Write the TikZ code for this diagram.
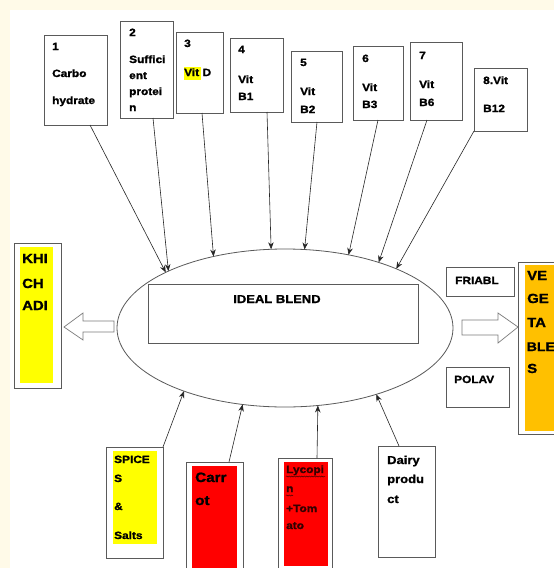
\documentclass[tikz,border=0pt]{standalone}
\usepackage{fontspec}
\setmainfont{Liberation Sans}[FakeStretch=1.13, BoldFeatures={FakeBold=1.3}]
\usetikzlibrary{arrows.meta,fit,decorations.pathmorphing,shapes.geometric}
\definecolor{cream}{RGB}{255,250,232}
\definecolor{boxgray}{RGB}{90,90,90}
\definecolor{orng}{RGB}{255,192,0}
\definecolor{hiyel}{RGB}{255,255,0}
\tikzset{
  box/.style={draw=boxgray, line width=0.8pt, inner sep=0pt, outer sep=0pt},
  fillbox/.style={fill=#1, draw=none, inner sep=0pt, outer sep=0pt},
  txt/.style={anchor=base west, inner sep=0pt, font=\bfseries\fontsize{10.5}{12}\selectfont},
  bigtxt/.style={anchor=base west, inner sep=0pt, font=\bfseries\fontsize{13.2}{15}\selectfont},
  con/.style={draw=black!85, line width=0.6pt, -{Stealth[length=7pt,width=5.5pt]}},
  blockarrow/.style={draw=boxgray!80, line width=0.7pt, fill=white}
}
\begin{document}
\begin{tikzpicture}[x=1pt,y=-1pt]
\useasboundingbox (0,0) rectangle (554,568);
\clip (0,0) rectangle (554,568);
\fill[cream] (0,0) rectangle (554,568);
\fill[white] (10,10) rectangle (554,568);

% top boxes
\node[box, fit={(44,35) (107,125)}] (b1) {};
\node[txt] (t1a) at (52,50) {1};
\node[txt] (t1b) at (52,77) {Carbo};
\node[txt] (t1c) at (52,104) {hydrate};

\node[box, fit={(120,21) (173,118)}] (b2) {};
\node[txt] (t2a) at (129,36) {2};
\node[txt] (t2b) at (129,63) {Suffici};
\node[txt] (t2c) at (129,79) {ent};
\node[txt] (t2d) at (129,95) {protei};
\node[txt] (t2e) at (129,111) {n};

\node[box, fit={(176,32) (223,113)}] (b3) {};
\node[fillbox=hiyel, fit={(184,67) (201,80)}] (hl) {};
\node[txt] (t3a) at (184,47) {3};
\node[txt] (t3b) at (184,76) {Vit\,\,D};

\node[box, fit={(230,38) (283,112)}] (b4) {};
\node[txt] (t4a) at (238,53) {4};
\node[txt] (t4b) at (238,83) {Vit};
\node[txt] (t4c) at (238,100) {B1};

\node[box, fit={(291,51) (342,122)}] (b5) {};
\node[txt] (t5a) at (300,66) {5};
\node[txt] (t5b) at (300,95) {Vit};
\node[txt] (t5c) at (300,113) {B2};

\node[box, fit={(353,46) (403,120)}] (b6) {};
\node[txt] (t6a) at (362,62) {6};
\node[txt] (t6b) at (362,91) {Vit};
\node[txt] (t6c) at (362,108) {B3};

\node[box, fit={(410,42) (462,120)}] (b7) {};
\node[txt] (t7a) at (419,59) {7};
\node[txt] (t7b) at (419,88) {Vit};
\node[txt] (t7c) at (419,106) {B6};

\node[box, fit={(474,68) (527,131)}] (b8) {};
\node[txt] (t8a) at (483,84) {8.Vit};
\node[txt] (t8b) at (483,112) {B12};

% central ellipse and inner box
\node[draw=boxgray, line width=0.8pt, ellipse, minimum width=336pt, minimum height=158pt, inner sep=0pt, outer sep=0pt] (E) at (285,328) {};
\node[box, fit={(148,284) (418,343)}] (ib) {};
\node[anchor=base, inner sep=0pt, font=\bfseries\fontsize{11.5}{13}\selectfont] (ibt) at (277,303) {IDEAL BLEND};

% connectors top
\draw[con] ([xshift=46pt]b1.south west) -- (E.155.9);
\draw[con] ([xshift=33pt]b2.south west) -- (E.154.4);
\draw[con] ([xshift=26pt]b3.south west) -- (E.135.8);
\draw[con] ([xshift=37pt]b4.south west) -- (E.100);
\draw[con] ([xshift=26pt]b5.south west) -- (E.76.6);
\draw[con] ([xshift=25pt]b6.south west) -- (E.49);
\draw[con] ([xshift=17pt]b7.south west) -- (E.35.9);
\draw[con] (b8.south west) -- (E.28.3);

% left: KHICHADI
\node[box, fit={(14,243) (61,388)}] (kb) {};
\node[fillbox=hiyel, fit={(20,247) (53,383)}] (kf) {};
\node[bigtxt] (k1) at (22,263) {KHI};
\node[bigtxt] (k2) at (22,288) {CH};
\node[bigtxt] (k3) at (22,310) {ADI};
\draw[blockarrow] (114,321) -- (83,321) -- (83,313) -- (64,327) -- (83,340) -- (83,332) -- (114,332) -- cycle;

% right: vegetables
\node[box, fit={(446,267) (514,296)}] (fr) {};
\node[txt] (frt) at (455,284) {FRIABL};
\node[box, fit={(446,367) (509,407)}] (po) {};
\node[txt] (pot) at (454,383) {POLAV};
\node[box, fit={(518,262) (575,434)}] (vb) {};
\node[fillbox=orng, fit={(525,265) (560,431)}] (vf) {};
\node[bigtxt] (v1) at (527,280) {VE};
\node[bigtxt] (v2) at (527,303) {GE};
\node[bigtxt] (v3) at (527,327) {TA};
\node[bigtxt, font=\bfseries\fontsize{12.5}{15}\selectfont] (v4) at (526.5,351) {BLE};
\node[bigtxt] (v5) at (527,373) {S};
\draw[blockarrow] (462,320) -- (498,320) -- (498,313) -- (518,327) -- (498,343) -- (498,335) -- (462,335) -- cycle;

% bottom boxes
\node[box, fit={(106,447) (163,558)}] (sb) {};
\node[fillbox=hiyel, fit={(113,451) (157,544)}] (sf) {};
\node[txt] (s1) at (114,463) {SPICE};
\node[txt] (s2) at (114,482) {S};
\node[txt] (s3) at (114,510) {\&};
\node[txt] (s4) at (114,539) {Salts};

\node[box, fit={(186,462) (243,580)}] (cb) {};
\node[fillbox=red, fit={(192,466) (237,580)}] (cf) {};
\node[anchor=base west, inner sep=0pt, font=\bfseries\fontsize{13.5}{15}\selectfont] (c1) at (195,482) {Carr};
\node[anchor=base west, inner sep=0pt, font=\bfseries\fontsize{13.5}{15}\selectfont] (c2) at (195,505) {ot};

\node[box, fit={(278,458) (332,580)}] (lb) {};
\node[fillbox=red, fit={(284,462) (328,566)}] (lf) {};
\node[txt, text=black!80!red] (l1) at (286,473) {Lycopi};
\node[txt, text=black!80!red] (l2) at (286,492) {n};
\node[txt, text=black!80!red] (l3) at (286,512) {+Tom};
\node[txt, text=black!80!red] (l4) at (286,529) {ato};
\draw[black!70!red, line width=0.5pt, decorate, decoration={snake, segment length=2.5pt, amplitude=0.6pt}] (286,476.5) -- (325,476.5);
\draw[black!70!red, line width=0.5pt, decorate, decoration={snake, segment length=2.5pt, amplitude=0.6pt}] (286,495.5) -- (293,495.5);

\node[box, fit={(378,446) (435,557)}] (db) {};
\node[anchor=base west, inner sep=0pt, font=\bfseries\fontsize{11.5}{13}\selectfont] (d1) at (387,464) {Dairy};
\node[anchor=base west, inner sep=0pt, font=\bfseries\fontsize{11.5}{13}\selectfont] (d2) at (387,483) {produ};
\node[anchor=base west, inner sep=0pt, font=\bfseries\fontsize{11.5}{13}\selectfont] (d3) at (387,503) {ct};

% connectors bottom
\draw[con] (sb.north east) -- (E.212.1);
\draw[con] ([xshift=43pt]cb.north west) -- (E.241.7);
\draw[con] ([xshift=39pt]lb.north west) -- (E.293.1);
\draw[con] ([xshift=21pt]db.north west) -- (E.324.9);
\end{tikzpicture}
\end{document}
